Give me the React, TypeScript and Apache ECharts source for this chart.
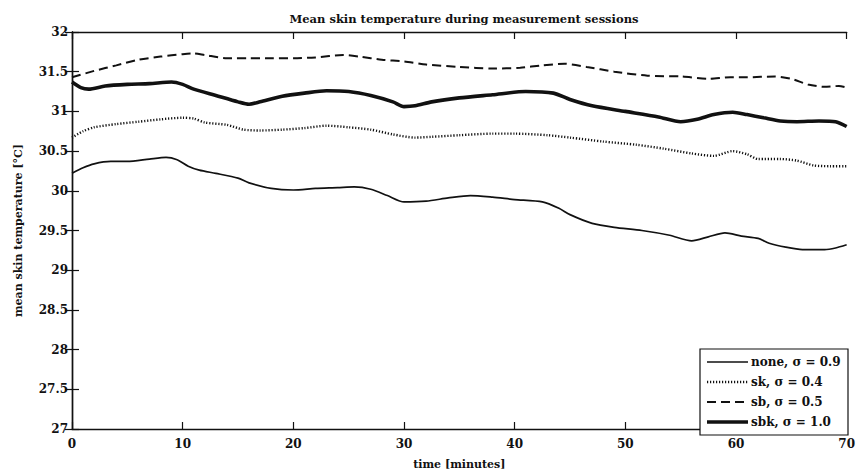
import React, { useEffect, useRef } from "react";
import * as echarts from "echarts";

const xTicks = [0, 10, 20, 30, 40, 50, 60, 70];
const yTicks = [27, 27.5, 28, 28.5, 29, 29.5, 30, 30.5, 31, 31.5, 32];

const seriesNames = ["none, σ = 0.9", "sk, σ = 0.4", "sb, σ = 0.5", "sbk, σ = 1.0"];

const noneData: [number, number][] = [
  [0, 30.22], [1, 30.29], [2, 30.34], [3.5, 30.37], [5, 30.37], [7, 30.4], [8.5, 30.42], [9.5, 30.39],
  [10.5, 30.31], [11.5, 30.26], [13, 30.22], [15, 30.16], [16, 30.1], [18, 30.03], [20, 30.01], [22, 30.03],
  [24, 30.04], [25.5, 30.05], [27, 30.02], [28.5, 29.94], [30, 29.86], [32, 29.87], [34, 29.91], [36, 29.94],
  [38, 29.92], [40, 29.89], [42.5, 29.86], [44, 29.78], [45, 29.7], [47, 29.59], [49, 29.54], [51.5, 29.5],
  [54, 29.44], [56, 29.37], [57.5, 29.42], [59, 29.47], [60.5, 29.43], [62, 29.4], [63, 29.34], [64.5, 29.29],
  [66, 29.26], [68, 29.26], [69, 29.28], [70, 29.32],
];

const skData: [number, number][] = [
  [0, 30.67], [1, 30.75], [2, 30.8], [4, 30.84], [6, 30.87], [8, 30.9], [10, 30.92], [11, 30.91], [12, 30.86],
  [14, 30.83], [15.5, 30.77], [17, 30.76], [19, 30.77], [21, 30.79], [23, 30.82], [25, 30.8], [27, 30.77],
  [29, 30.71], [31, 30.67], [32.5, 30.68], [35, 30.7], [38, 30.72], [40, 30.72], [43, 30.7], [45, 30.67],
  [48, 30.62], [51, 30.58], [53.5, 30.53], [56, 30.47], [58, 30.44], [59.7, 30.5], [61, 30.46], [62, 30.4],
  [64, 30.4], [65.5, 30.38], [67, 30.32], [68.5, 30.31], [70, 30.31],
];

const sbData: [number, number][] = [
  [0, 31.43], [2, 31.51], [4, 31.58], [6, 31.65], [8, 31.69], [10, 31.72], [11, 31.73], [12, 31.71], [14, 31.67],
  [16, 31.67], [18, 31.67], [20, 31.67], [22, 31.68], [24.5, 31.71], [26, 31.69], [28, 31.65], [30, 31.63],
  [32, 31.59], [35, 31.56], [38, 31.54], [40.5, 31.55], [42.5, 31.58], [44.5, 31.6], [46.5, 31.56], [49, 31.5],
  [52, 31.45], [55, 31.44], [57.5, 31.41], [59.5, 31.43], [61, 31.43], [63.5, 31.44], [65, 31.41], [66.5, 31.34],
  [68, 31.31], [69.3, 31.32], [70, 31.3],
];

const sbkData: [number, number][] = [
  [0, 31.37], [0.8, 31.3], [1.5, 31.28], [3, 31.32], [5, 31.34], [7, 31.35], [9, 31.37], [10, 31.34], [11, 31.28],
  [13, 31.2], [15, 31.12], [16, 31.09], [17, 31.12], [19, 31.19], [21, 31.23], [23, 31.26], [25, 31.25], [27, 31.2],
  [29, 31.12], [30, 31.06], [31, 31.07], [32.5, 31.12], [35, 31.17], [38, 31.21], [41, 31.25], [43.5, 31.23],
  [45, 31.15], [47, 31.07], [50, 31.0], [53, 30.93], [55, 30.87], [56.5, 30.9], [58, 30.96], [59.7, 30.99],
  [61, 30.96], [62.5, 30.92], [64, 30.88], [65.5, 30.87], [67.5, 30.88], [69, 30.87], [70, 30.81],
];

const FONT = "'DejaVu Serif', 'Liberation Serif', serif";
const INK = "#111";

const lineStyles = [
  { width: 1.7, type: "solid" as any },
  { width: 2.4, type: [1.2, 1.8] as any },
  { width: 2, type: [9, 5] as any },
  { width: 3.6, type: "solid" as any },
];

export default function App() {
  const ref = useRef<HTMLDivElement>(null);

  useEffect(() => {
    document.body.style.margin = "0";
    if (!ref.current) return;
    const chart = echarts.init(ref.current, undefined, { renderer: "svg" });

    const gridLeft = 72;
    const gridTop = 32;
    const gridRight = 9;
    const gridBottom = 38;

    const datasets = [noneData, skData, sbData, sbkData];

    const axisLabel = { color: INK, fontFamily: FONT, fontWeight: "bold" as const, fontSize: 12 };

    const legendX = 700;
    const legendY = 349;
    const legendRows = seriesNames.map((name, i) => {
      const cy = legendY + 13 + i * 20;
      return [
        {
          type: "line",
          shape: { x1: legendX + 7, y1: cy, x2: legendX + 48, y2: cy },
          style: { stroke: INK, lineWidth: lineStyles[i].width, lineDash: Array.isArray(lineStyles[i].type) ? lineStyles[i].type : null },
          z: 101,
        },
        {
          type: "text",
          x: legendX + 51,
          y: cy,
          style: {
            text: name,
            fill: INK,
            font: `bold 12px ${FONT}`,
            verticalAlign: "middle",
            align: "left",
          },
          z: 101,
        },
      ];
    }).flat();

    chart.setOption({
      animation: false,
      backgroundColor: "#fff",
      title: {
        text: "Mean skin temperature during measurement sessions",
        left: 459,
        top: 8,
        textAlign: "center",
        textStyle: { color: INK, fontFamily: FONT, fontWeight: "bold", fontSize: 11.5 },
      },
      grid: { left: gridLeft, top: gridTop, right: gridRight, bottom: gridBottom, containLabel: false },
      xAxis: [
        {
          type: "value",
          min: 0,
          max: 70,
          interval: 10,
          name: "time [minutes]",
          nameLocation: "middle",
          nameGap: 30,
          nameTextStyle: { color: INK, fontFamily: FONT, fontWeight: "bold", fontSize: 11 },
          axisLine: { show: true, lineStyle: { color: INK, width: 1.4 } },
          axisTick: { show: true, inside: true, length: 7, lineStyle: { color: INK, width: 1.2 } },
          axisLabel: { ...axisLabel, margin: 9, formatter: (v: number) => (xTicks.includes(v) ? String(v) : "") },
          splitLine: { show: false },
        },
        {
          type: "value",
          position: "top",
          min: 0,
          max: 70,
          interval: 10,
          axisLine: { show: true, lineStyle: { color: INK, width: 1.4 } },
          axisTick: { show: true, inside: true, length: 7, lineStyle: { color: INK, width: 1.2 } },
          axisLabel: { show: false },
          splitLine: { show: false },
        },
      ],
      yAxis: [
        {
          type: "value",
          min: 27,
          max: 32,
          interval: 0.5,
          name: "mean skin temperature [°C]",
          nameLocation: "middle",
          nameGap: 48,
          nameTextStyle: { color: INK, fontFamily: FONT, fontWeight: "bold", fontSize: 11 },
          axisLine: { show: true, lineStyle: { color: INK, width: 1.4 } },
          axisTick: { show: true, inside: true, length: 7, lineStyle: { color: INK, width: 1.2 } },
          axisLabel: { ...axisLabel, margin: 4, formatter: (v: number) => (yTicks.includes(v) ? String(v) : "") },
          splitLine: { show: false },
        },
        {
          type: "value",
          position: "right",
          min: 27,
          max: 32,
          interval: 0.5,
          axisLine: { show: true, lineStyle: { color: INK, width: 1.4 } },
          axisTick: { show: true, inside: true, length: 7, lineStyle: { color: INK, width: 1.2 } },
          axisLabel: { show: false },
          splitLine: { show: false },
        },
      ],
      series: seriesNames.map((name, i) => ({
        name,
        type: "line",
        xAxisIndex: 0,
        yAxisIndex: 0,
        data: datasets[i],
        showSymbol: false,
        symbol: "none",
        smooth: 0.25,
        lineStyle: { color: INK, width: lineStyles[i].width, type: lineStyles[i].type, cap: "butt" },
        z: 3 + i,
      })),
      graphic: [
        {
          type: "rect",
          shape: { x: legendX, y: legendY, width: 148, height: 86 },
          style: { fill: "#fff", stroke: INK, lineWidth: 1.2 },
          z: 100,
        },
        ...legendRows,
      ],
    });

    return () => chart.dispose();
  }, []);

  return <div ref={ref} style={{ width: 858, height: 475 }} />;
}
